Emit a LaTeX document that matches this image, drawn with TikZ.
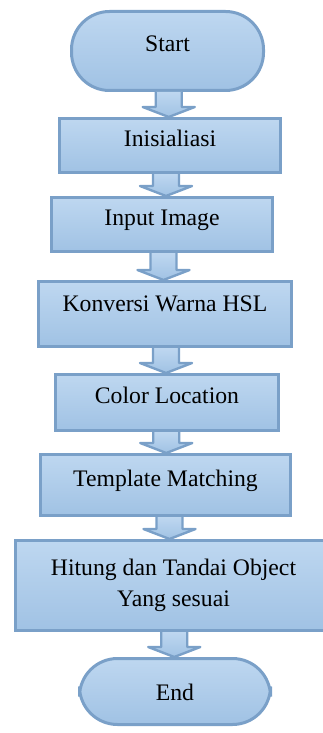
\documentclass[tikz,border=0pt]{standalone}
\usepackage{fontspec}
\setmainfont{Liberation Serif}
\usetikzlibrary{positioning, calc}

\definecolor{boxedge}{RGB}{122,160,200}
\definecolor{boxtop}{RGB}{190,215,240}
\definecolor{boxbottom}{RGB}{160,194,228}

\begin{document}
\begin{tikzpicture}[
    x=1pt, y=1pt,
    box/.style={draw=boxedge, line width=3pt, top color=boxtop, bottom color=boxbottom, align=center, font=\fontsize{23.7}{31}\selectfont, text height=14pt, text depth=12pt},
    terminal/.style={box, rounded corners=38pt},
    flow/.style={draw=boxedge, line width=2.4pt, line join=round, top color=boxtop, bottom color=boxbottom}
  ]
    \useasboundingbox (0,0) rectangle (322,-733);

    \node[terminal, minimum width=192pt, minimum height=79pt] (start) at (167.5,-51) {Start};
    \node[box, minimum width=221pt, minimum height=54pt, below=25pt of start, xshift=2.5pt] (init) {Inisialiasi};
    \node[box, minimum width=221pt, minimum height=54pt, below=22pt of init, xshift=-8pt] (input) {Input Image};
    \node[box, minimum width=253pt, minimum height=65pt, below=27pt of input, xshift=3pt, text depth=18.6pt] (hsl) {Konversi Warna HSL};
    \node[box, minimum width=223pt, minimum height=56pt, below=25pt of hsl, xshift=2pt] (color) {Color Location};
    \node[box, minimum width=250pt, minimum height=61pt, below=21pt of color, xshift=-1.5pt] (match) {Template Matching};
    \node[box, minimum width=316pt, minimum height=90pt, below=22pt of match, xshift=8pt, text height={}, text depth={}] (count) {Hitung dan Tandai Object\\Yang sesuai};
    \node[terminal, minimum width=191pt, minimum height=66pt, below=25pt of count, xshift=1.5pt, text height=22pt, text depth=4pt] (stop) {End};

    % block arrows between the steps
    \foreach \a/\b in {start/init, init/input, input/hsl, hsl/color, color/match, match/count, count/stop}
      \draw[flow] let \p1=(\a.south), \p2=(\b.north), \n1={(\x1+\x2)/2} in
        (\n1-13pt,\y1) -- (\n1-13pt,\y2+10pt) -- (\n1-26pt,\y2+10pt) -- (\n1,\y2)
        -- (\n1+26pt,\y2+10pt) -- (\n1+13pt,\y2+10pt) -- (\n1+13pt,\y1);
\end{tikzpicture}
\end{document}
